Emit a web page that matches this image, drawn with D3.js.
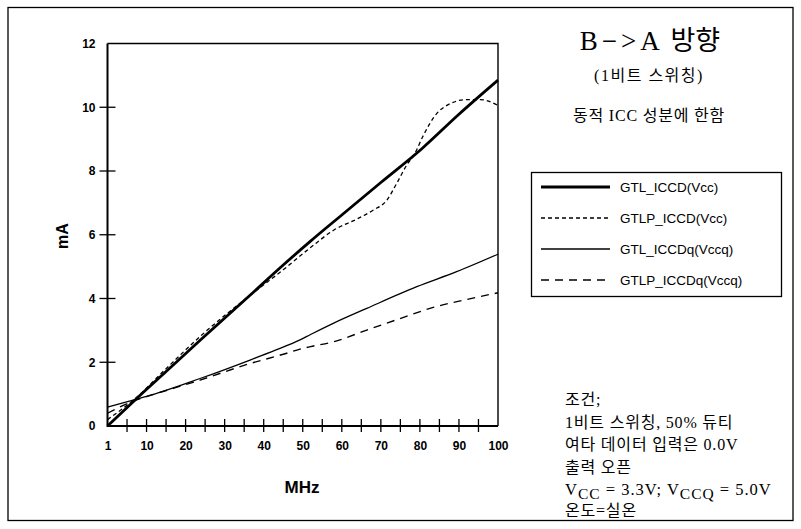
<!DOCTYPE html>
<html><head><meta charset="utf-8">
<script src="https://cdn.jsdelivr.net/npm/d3@7"></script>
<style>body{margin:0;background:#fff} svg{display:block}</style>
</head><body><svg id="c" width="801" height="529"></svg>
<script>
// ---- data ----
const xTickValues = [0,10,20,30,40,50,60,70,80,90,100];
const xTickLabels = ["1","10","20","30","40","50","60","70","80","90","100"];
const xMinorTicks = [5,10,15,20,25,30,35,40,45,50,55,60,65,70,75,80,85,90,95];
const yTickValues = [0,2,4,6,8,10,12];

const gtlIccdF  = [0,7,15,24,36.5,45,52,60,70,80.5,90,100];
const gtlIccdV  = [0,0.81,1.71,2.72,4.1,5.05,5.8,6.62,7.64,8.7,9.78,10.85];

const gtlpIccdF = [0,7,15,24,36.5,45,52,58,64,68,71.5,74,76.6,78.7,80.9,84.3,86.9,92,95.4,100];
const gtlpIccdV = [0.2,0.85,1.8,2.84,4.1,4.9,5.6,6.15,6.5,6.77,7.08,7.6,8.18,8.55,9.12,9.8,10.06,10.24,10.24,10.06];

const gtlIccdqF = [0,7,10,23.7,36.5,43,49.3,52,57.8,66.4,79.2,89.4,100];
const gtlIccdqV = [0.59,0.83,0.93,1.49,2.07,2.38,2.7,2.87,3.22,3.69,4.37,4.84,5.39];

const gtlpIccdqF = [0,7,10,23.7,36.5,45,49.3,52,57.8,66.4,74.9,83.4,92,100];
const gtlpIccdqV = [0.4,0.8,0.92,1.44,1.96,2.25,2.41,2.49,2.64,3.01,3.37,3.72,3.97,4.18];

const legendLabels = ["GTL_ICCD(Vcc)","GTLP_ICCD(Vcc)","GTL_ICCDq(Vccq)","GTLP_ICCDq(Vccq)"];
const conditionLines = ["조건;","1비트 스위칭, 50% 듀티","여타 데이터 입력은 0.0V","출력 오픈"];

// ---- drawing ----
const svg = d3.select("#c");
const serif = "'Liberation Serif','DejaVu Serif','Noto Sans CJK KR',serif";
const sans = "'Liberation Sans',Arial,Helvetica,sans-serif";

svg.append("rect").attr("x",8).attr("y",7.5).attr("width",785).attr("height",513)
  .attr("fill","none").attr("stroke","#000").attr("stroke-width",1.3);

const x = d3.scaleLinear().domain([0,100]).range([107.5,498]);
const y = d3.scaleLinear().domain([0,12]).range([426,43.5]);

const g = svg.append("g");
g.append("path").attr("d",`M${x(0)},${y(12)}H${x(100)}V${y(0)}`)
  .attr("fill","none").attr("stroke","#000").attr("stroke-width",1.4);

const yAxis = d3.axisLeft(y).tickValues(yTickValues).tickSize(0).tickPadding(12)
  .tickFormat(d3.format("d"));
const ya = g.append("g").attr("transform",`translate(${x(0)},0)`).call(yAxis);
ya.select(".domain").remove();
ya.selectAll("text").attr("font-family",sans).attr("font-weight","bold").attr("font-size",12).attr("fill","#000");
g.selectAll(".ytk").data(yTickValues.filter(d=>d>0&&d<12)).join("line")
  .attr("x1",x(0)-8).attr("x2",x(0)+8).attr("y1",d=>y(d)).attr("y2",d=>y(d))
  .attr("stroke","#000").attr("stroke-width",1.3);

const xAxis = d3.axisBottom(x).tickValues(xTickValues).tickSize(0).tickPadding(15)
  .tickFormat((d,i)=>xTickLabels[i]);
const xa = g.append("g").attr("transform",`translate(0,${y(0)})`).call(xAxis);
xa.select(".domain").remove();
xa.selectAll("text").attr("font-family",sans).attr("font-weight","bold").attr("font-size",12).attr("fill","#000");
g.selectAll(".xtk").data(xMinorTicks).join("line")
  .attr("x1",d=>x(d)).attr("x2",d=>x(d)).attr("y1",y(0)-7).attr("y2",y(0)+6)
  .attr("stroke","#000").attr("stroke-width",1.3);

g.append("path").attr("d",`M${x(0)},${y(12)}V${y(0)}H${x(100)}`)
  .attr("fill","none").attr("stroke","#000").attr("stroke-width",2);

svg.append("text").attr("transform","translate(68,236) rotate(-90)")
  .attr("text-anchor","middle").attr("font-family",sans).attr("font-weight","bold")
  .attr("font-size",16).text("mA");
svg.append("text").attr("x",302).attr("y",493).attr("text-anchor","middle")
  .attr("font-family",sans).attr("font-weight","bold").attr("font-size",17).text("MHz");

const series = [
  {f:gtlIccdF, v:gtlIccdV, w:2.8, dash:null},
  {f:gtlpIccdF, v:gtlpIccdV, w:1.3, dash:"4,3"},
  {f:gtlIccdqF, v:gtlIccdqV, w:1.3, dash:null},
  {f:gtlpIccdqF, v:gtlpIccdqV, w:1.4, dash:"8,6"}
];
const line = d3.line().x(d=>x(d[0])).y(d=>y(d[1])).curve(d3.curveMonotoneX);
series.forEach(s=>{
  g.append("path").datum(s.f.map((f,i)=>[f,s.v[i]])).attr("d",line)
   .attr("fill","none").attr("stroke","#000").attr("stroke-width",s.w)
   .attr("stroke-dasharray",s.dash);
});

svg.append("text").attr("x",650).attr("y",50).attr("text-anchor","middle")
  .attr("font-family",serif).attr("font-size",27)
  .html('<tspan letter-spacing="4">B−&gt;A</tspan> 방향');
svg.append("text").attr("x",649).attr("y",81).attr("text-anchor","middle")
  .attr("font-family",serif).attr("font-size",16).attr("letter-spacing",1.5).text("(1비트 스위칭)");
svg.append("text").attr("x",649).attr("y",121).attr("text-anchor","middle")
  .attr("font-family",serif).attr("font-size",16).attr("letter-spacing",0.8).text("동적 ICC 성분에 한함");

svg.append("rect").attr("x",531.5).attr("y",172.5).attr("width",250).attr("height",124)
  .attr("fill","#fff").attr("stroke","#000").attr("stroke-width",1.3);
legendLabels.forEach((lab,i)=>{
  const ly = 187 + i*31;
  const s = series[i];
  svg.append("line").attr("x1",541).attr("x2",610).attr("y1",ly).attr("y2",ly)
    .attr("stroke","#000").attr("stroke-width",s.w).attr("stroke-dasharray",s.dash);
  svg.append("text").attr("x",620).attr("y",ly+5).attr("font-family",sans)
    .attr("font-size",13.5).text(lab);
});

conditionLines.forEach((t,i)=>{
  svg.append("text").attr("x",565).attr("y",405+i*22.5).attr("font-family",serif)
    .attr("font-size",16).attr("letter-spacing",0.8).text(t);
});
svg.append("text").attr("x",565).attr("y",495).attr("font-family",serif).attr("font-size",16.5)
  .attr("letter-spacing",1)
  .html('V<tspan dy="4" font-size="15.5">CC</tspan><tspan dy="-4"> = 3.3V; V</tspan><tspan dy="4" font-size="15.5">CCQ</tspan><tspan dy="-4"> = 5.0V</tspan>');
svg.append("text").attr("x",565).attr("y",516).attr("font-family",serif)
  .attr("font-size",16).attr("letter-spacing",0.8).text("온도=실온");
</script></body></html>
